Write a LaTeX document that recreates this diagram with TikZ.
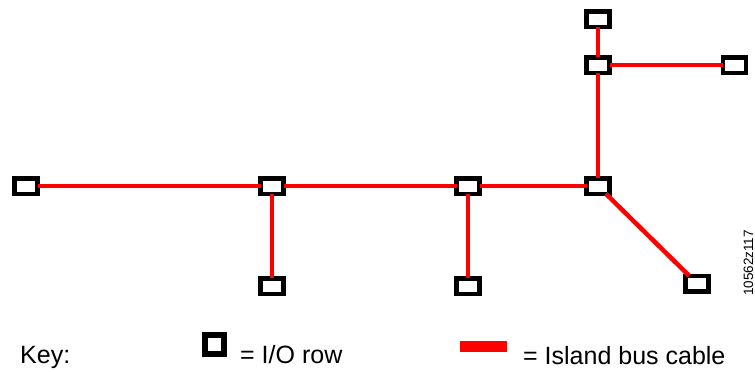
\documentclass[tikz,border=0pt]{standalone}
\usepackage{fontspec}
\setmainfont{Liberation Sans}
\begin{document}
\begin{tikzpicture}[x=1pt,y=-1pt,
  iorow/.style={draw=black,fill=white,line width=4.5pt,minimum width=23pt,minimum height=15.5pt,inner sep=0pt,outer sep=0pt},
  cable/.style={draw=red,line width=4.5pt},
  keytext/.style={anchor=base west,inner sep=0pt,font=\fontsize{25}{29}\selectfont}]
\useasboundingbox (0,0) rectangle (755,372);
% nodes
\node[iorow] (a) at (26,186) {};
\node[iorow] (b) at (272,186) {};
\node[iorow] (c) at (468,186) {};
\node[iorow] (d) at (598,186) {};
\node[iorow] (e) at (598,19) {};
\node[iorow] (f) at (598,65) {};
\node[iorow] (g) at (734.5,65) {};
\node[iorow] (h) at (272,286) {};
\node[iorow] (i) at (468,286) {};
\node[iorow] (j) at (697,283.5) {};
% cables
\draw[cable] (a) -- (b);
\draw[cable] (b) -- (c);
\draw[cable] (c) -- (d);
\draw[cable] (d) -- (f);
\draw[cable] (f) -- (e);
\draw[cable] (f) -- (g);
\draw[cable] (b) -- (h);
\draw[cable] (c) -- (i);
\draw[cable] (d) -- (j);
% key
\node[keytext] (key) at (20,363) {Key:};
\node[draw=black,fill=white,line width=6pt,minimum width=19.5pt,minimum height=19pt,inner sep=0pt,outer sep=0pt] (keybox) at (214.5,344.5) {};
\node[keytext] (keyio) at (240,363) {= I/O row};
\node[fill=red,minimum width=47pt,minimum height=10.5pt,inner sep=0pt] (keybar) at (483.5,346.5) {};
\node[keytext] (keybus) at (523,364) {= Island bus cable};
\node[rotate=90,inner sep=0pt,font=\fontsize{13.5}{16}\selectfont] (ref) at (748.5,263) {10562z117};
\end{tikzpicture}
\end{document}
